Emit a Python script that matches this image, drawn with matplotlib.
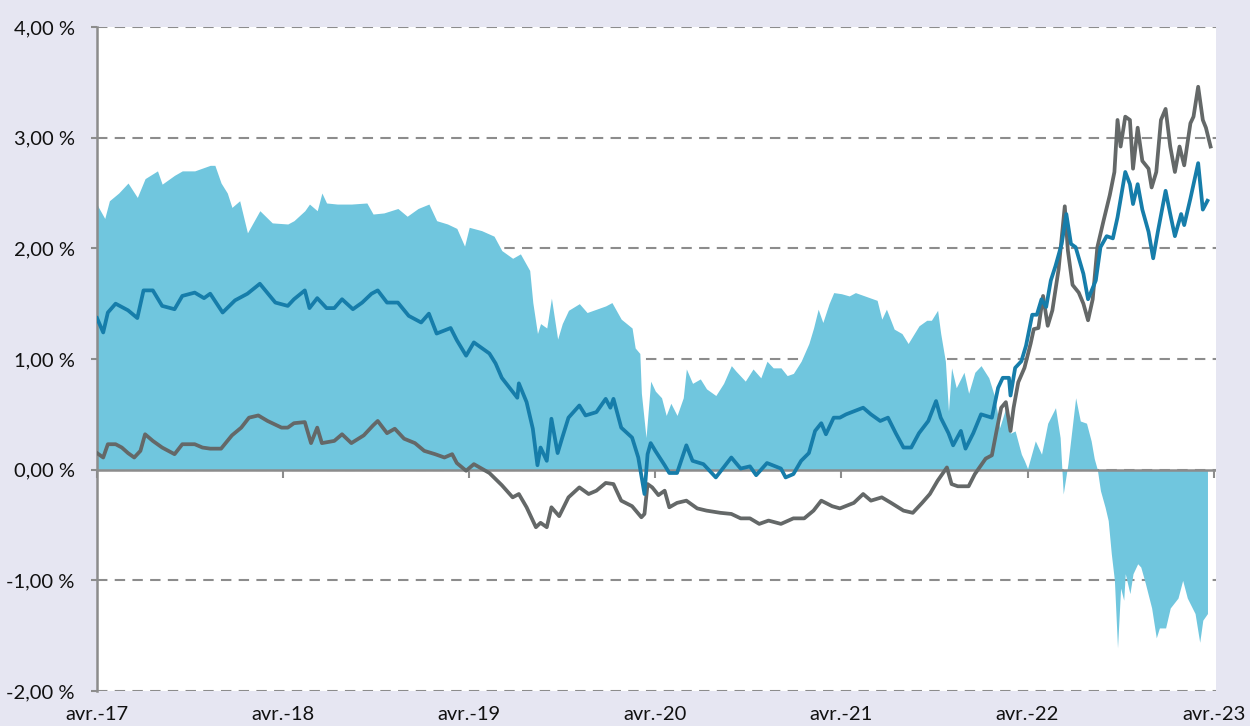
import matplotlib.pyplot as plt
import numpy as np

# axe x : mois depuis avril 2017
etiquettes_x = ["avr.-17", "avr.-18", "avr.-19", "avr.-20", "avr.-21", "avr.-22", "avr.-23"]
mois_ticks = [0, 12, 24, 36, 48, 60, 72]
niveaux_y = [-2, -1, 0, 1, 2, 3, 4]
etiquettes_y = ["-2,00 %", "-1,00 %", "0,00 %", "1,00 %", "2,00 %", "3,00 %", "4,00 %"]

# zone bleu clair (écart)
mois_zone = [0.0, 0.1, 0.5, 0.8, 1.4, 2.0, 2.6, 3.1, 3.9, 4.2, 5.0, 5.5, 6.3, 7.3, 7.6, 8.0, 8.4, 8.7,
             9.2, 9.7, 10.5, 11.3, 12.3, 12.7, 13.4, 13.7, 14.2, 14.5, 14.8, 15.5, 16.4, 17.4, 17.8,
             18.5, 19.4, 20.0, 20.7, 21.4, 21.9, 22.6, 23.2, 23.7, 24.0, 24.8, 25.6, 26.1, 26.8, 27.3,
             27.9, 28.1, 28.4, 28.6, 29.0, 29.3, 29.7, 30.0, 30.4, 31.1, 31.6, 32.2, 32.8, 33.2, 33.8,
             34.5, 34.7, 35.0, 35.1, 35.4, 35.7, 36.0, 36.4, 36.7, 37.0, 37.4, 37.8, 38.0, 38.4, 38.9,
             39.3, 39.9, 40.4, 40.9, 41.2, 41.8, 42.3, 42.8, 43.2, 43.6, 44.1, 44.5, 44.9, 45.4, 45.9,
             46.2, 46.5, 46.8, 47.2, 47.5, 48.0, 48.5, 48.9, 49.5, 50.3, 50.6, 50.9, 51.4, 51.9, 52.3,
             53.0, 53.5, 53.8, 54.2, 54.4, 54.7, 54.9, 55.1, 55.4, 55.9, 56.2, 56.6, 57.0, 57.5, 57.9,
             58.2, 58.6, 58.9, 59.2, 59.6, 59.8, 60.0, 60.5, 60.9, 61.3, 61.8, 62.1, 62.3, 62.6, 63.1,
             63.4, 63.8, 64.1, 64.3, 64.5, 64.7, 65.0, 65.2, 65.4, 65.6, 65.8, 66.0, 66.2, 66.3, 66.6,
             66.8, 67.1, 67.3, 67.6, 68.0, 68.3, 68.5, 68.9, 69.2, 69.7, 70.0, 70.3, 70.8, 71.1, 71.3,
             71.6]
zone = [2.40, 2.37, 2.27, 2.43, 2.50, 2.59, 2.46, 2.63, 2.70, 2.58, 2.66, 2.70, 2.70, 2.75, 2.75, 2.59,
        2.50, 2.37, 2.43, 2.14, 2.34, 2.23, 2.22, 2.25, 2.34, 2.40, 2.34, 2.50, 2.41, 2.40, 2.40, 2.41,
        2.31, 2.32, 2.36, 2.29, 2.36, 2.40, 2.25, 2.22, 2.18, 2.02, 2.19, 2.16, 2.11, 1.98, 1.91, 1.95,
        1.80, 1.51, 1.23, 1.32, 1.28, 1.55, 1.18, 1.32, 1.44, 1.50, 1.42, 1.45, 1.48, 1.51, 1.36,
        1.28, 1.10, 1.05, 0.69, 0.29, 0.80, 0.71, 0.65, 0.49, 0.60, 0.49, 0.65, 0.91, 0.78, 0.82,
        0.73, 0.67, 0.78, 0.94, 0.89, 0.80, 0.91, 0.83, 0.98, 0.92, 0.92, 0.85, 0.87, 0.98, 1.14,
        1.28, 1.45, 1.33, 1.50, 1.60, 1.59, 1.57, 1.60, 1.57, 1.53, 1.36, 1.45, 1.27, 1.23, 1.14,
        1.30, 1.35, 1.35, 1.44, 1.23, 0.98, 0.53, 0.92, 0.74, 0.88, 0.69, 0.88, 0.94, 0.83, 0.65,
        0.38, 0.56, 0.33, 0.35, 0.14, 0.08, 0.01, 0.26, 0.14, 0.42, 0.56, 0.29, -0.22, 0.05, 0.65,
        0.44, 0.42, 0.26, 0.10, 0.00, -0.19, -0.34, -0.46, -0.76, -1.00, -1.61, -1.07, -1.18, -0.94, -1.12,
        -0.94, -0.85, -0.88, -1.03, -1.25, -1.52, -1.43, -1.43, -1.25, -1.16, -1.00, -1.16, -1.30, -1.56, -1.36,
        -1.30]

# courbe bleue
mois_bleu = [0.0, 0.4, 0.7, 1.2, 2.0, 2.6, 3.0, 3.6, 4.2, 5.0, 5.5, 6.3, 6.9, 7.3, 8.1, 8.9, 9.7, 10.5,
             11.5, 12.3, 12.7, 13.4, 13.7, 14.2, 14.8, 15.3, 15.8, 16.5, 17.1, 17.7, 18.1, 18.7, 19.4,
             20.1, 20.9, 21.4, 21.9, 22.8, 23.2, 23.8, 24.3, 24.6, 25.3, 25.7, 26.1, 26.6, 27.1, 27.2,
             27.7, 28.1, 28.4, 28.6, 29.0, 29.3, 29.7, 30.0, 30.4, 31.1, 31.5, 32.2, 32.8, 33.1, 33.3,
             33.8, 34.5, 34.9, 35.3, 35.5, 35.7, 36.0, 36.6, 36.9, 37.4, 38.0, 38.4, 39.1, 39.9, 40.4,
             40.9, 41.5, 42.1, 42.5, 43.2, 44.1, 44.4, 44.9, 45.4, 45.9, 46.3, 46.7, 47.0, 47.5, 47.9,
             48.3, 49.4, 49.9, 50.5, 51.0, 51.5, 52.0, 52.5, 53.0, 53.6, 54.1, 54.4, 54.9, 55.2, 55.7,
             56.0, 56.5, 57.0, 57.7, 58.1, 58.4, 58.8, 58.9, 59.2, 59.6, 59.9, 60.3, 60.6, 60.9, 61.2,
             61.5, 61.8, 62.2, 62.5, 62.8, 63.1, 63.6, 63.9, 64.4, 64.7, 65.1, 65.5, 65.8, 66.3, 66.6,
             66.8, 67.1, 67.4, 67.8, 68.1, 68.4, 68.9, 69.2, 69.5, 69.9, 70.1, 70.5, 71.0, 71.3, 71.6]
bleu = [1.37, 1.24, 1.42, 1.50, 1.44, 1.37, 1.62, 1.62, 1.48, 1.45, 1.57, 1.60, 1.55, 1.59, 1.42, 1.53,
        1.59, 1.68, 1.51, 1.48, 1.54, 1.62, 1.46, 1.55, 1.46, 1.46, 1.54, 1.45, 1.51, 1.59, 1.62, 1.51,
        1.51, 1.39, 1.33, 1.41, 1.23, 1.28, 1.17, 1.03, 1.15, 1.12, 1.05, 0.96, 0.83, 0.74, 0.65, 0.78,
        0.61, 0.37, 0.04, 0.20, 0.08, 0.46, 0.15, 0.29, 0.47, 0.58, 0.49, 0.52, 0.64, 0.56, 0.64,
        0.38, 0.29, 0.11, -0.22, 0.14, 0.24, 0.17, 0.04, -0.03, -0.03, 0.22, 0.08, 0.05, -0.07, 0.02,
        0.11, 0.01, 0.03, -0.05, 0.06, 0.01, -0.07, -0.04, 0.08, 0.15, 0.35, 0.42, 0.32, 0.47, 0.47,
        0.50, 0.56, 0.50, 0.44, 0.47, 0.33, 0.20, 0.20, 0.33, 0.44, 0.62, 0.47, 0.33, 0.22, 0.35,
        0.19, 0.33, 0.50, 0.47, 0.74, 0.83, 0.83, 0.67, 0.92, 0.98, 1.12, 1.40, 1.40, 1.54, 1.47,
        1.71, 1.84, 2.04, 2.31, 2.04, 2.01, 1.77, 1.54, 1.71, 2.01, 2.11, 2.09, 2.28, 2.69, 2.58,
        2.40, 2.58, 2.35, 2.15, 1.91, 2.15, 2.52, 2.31, 2.11, 2.31, 2.21, 2.45, 2.77, 2.35, 2.43]

# courbe grise
mois_gris = [0.0, 0.4, 0.7, 1.2, 1.6, 2.0, 2.4, 2.8, 3.1, 3.6, 4.2, 5.0, 5.5, 6.3, 6.8, 7.3, 8.0, 8.7,
             9.3, 9.8, 10.4, 11.0, 11.9, 12.3, 12.7, 13.4, 13.8, 14.2, 14.5, 15.3, 15.8, 16.4, 17.2,
             17.8, 18.1, 18.7, 19.2, 19.8, 20.5, 21.1, 21.8, 22.4, 22.9, 23.2, 23.8, 24.3, 25.3, 26.1,
             26.8, 27.2, 27.7, 28.3, 28.6, 29.0, 29.3, 29.8, 30.4, 31.1, 31.7, 32.2, 32.8, 33.3, 33.8,
             34.5, 35.1, 35.3, 35.5, 35.8, 36.2, 36.6, 36.9, 37.4, 38.0, 38.7, 39.3, 40.2, 40.9, 41.5,
             42.1, 42.7, 43.3, 44.1, 44.9, 45.6, 46.2, 46.7, 47.4, 47.9, 48.8, 49.4, 49.9, 50.6, 51.2,
             52.0, 52.6, 53.2, 53.7, 54.2, 54.8, 55.1, 55.5, 56.2, 56.6, 57.3, 57.7, 58.0, 58.3, 58.6,
             58.9, 59.1, 59.4, 59.8, 60.2, 60.4, 60.7, 61.0, 61.3, 61.6, 62.0, 62.4, 62.6, 62.9, 63.3,
             63.6, 63.9, 64.2, 64.5, 64.9, 65.3, 65.6, 65.8, 66.0, 66.3, 66.6, 66.8, 67.1, 67.4, 67.8,
             68.0, 68.3, 68.6, 68.9, 69.2, 69.5, 69.8, 70.1, 70.5, 70.7, 71.0, 71.3, 71.5, 71.8]
gris = [0.15, 0.11, 0.23, 0.23, 0.20, 0.15, 0.11, 0.17, 0.32, 0.26, 0.20, 0.14, 0.23, 0.23, 0.20, 0.19,
        0.19, 0.31, 0.38, 0.47, 0.49, 0.44, 0.38, 0.38, 0.42, 0.43, 0.24, 0.38, 0.24, 0.26, 0.32, 0.24,
        0.31, 0.40, 0.44, 0.33, 0.37, 0.28, 0.24, 0.17, 0.14, 0.11, 0.14, 0.06, -0.01, 0.05, -0.03, -0.14,
        -0.25, -0.22, -0.34, -0.52, -0.48, -0.52, -0.34, -0.42, -0.25, -0.16, -0.22, -0.19, -0.12, -0.13, -0.28,
        -0.33, -0.43, -0.40, -0.13, -0.16, -0.23, -0.19, -0.34, -0.30, -0.28, -0.35, -0.37, -0.39, -0.40, -0.44,
        -0.44, -0.49, -0.46, -0.49, -0.44, -0.44, -0.37, -0.28, -0.33, -0.35, -0.30, -0.22, -0.28, -0.25, -0.30,
        -0.37, -0.39, -0.30, -0.22, -0.10, 0.02, -0.13, -0.15, -0.15, -0.04, 0.10, 0.13, 0.35, 0.56, 0.61,
        0.35, 0.56, 0.79, 0.92, 1.14, 1.27, 1.28, 1.57, 1.30, 1.44, 1.81, 2.38, 1.98, 1.67, 1.60,
        1.50, 1.35, 1.54, 2.01, 2.25, 2.48, 2.69, 3.16, 2.92, 3.19, 3.16, 2.72, 3.09, 2.79, 2.72,
        2.55, 2.69, 3.16, 3.26, 2.92, 2.69, 2.92, 2.75, 3.13, 3.19, 3.46, 3.16, 3.09, 2.92]

fond = "#E6E6F2"
gris_axe = "#8C8C8C"

fig = plt.figure(figsize=(12.5, 7.26), dpi=100, facecolor=fond)
ax = fig.add_axes([0.0776, 0.0482, 0.8952, 0.9146])
ax.set_facecolor("white")

ax.fill_between(mois_zone, zone, 0, color="#70C6DE", linewidth=0, zorder=1)
ax.axhline(0, color=gris_axe, linewidth=1.8, zorder=2)
ax.plot(mois_gris, gris, color="#646868", linewidth=2.7, zorder=3, solid_joinstyle="round")
ax.plot(mois_bleu, bleu, color="#167DAA", linewidth=2.7, zorder=4, solid_joinstyle="round")

ax.set_xlim(0, 72.15)
ax.set_ylim(-2, 4)
ax.set_yticks(niveaux_y)
ax.set_yticklabels(etiquettes_y)
ax.set_xticks(mois_ticks)
ax.set_xticklabels(etiquettes_x)

for s in ["top", "right", "bottom"]:
    ax.spines[s].set_visible(False)
ax.spines["left"].set_color(gris_axe)
ax.spines["left"].set_linewidth(1.8)

ax.yaxis.grid(True, linestyle=(0, (5, 3.5)), color=gris_axe, linewidth=1.5)
ax.set_axisbelow(True)
ax.tick_params(axis="y", length=4, width=1.5, color=gris_axe, labelsize=14.5, pad=12,
               labelcolor="#111111")
ax.tick_params(axis="x", length=0, labelsize=14.5, pad=11, labelcolor="#111111")
for lab in ax.get_xticklabels() + ax.get_yticklabels():
    lab.set_fontfamily("Lato")

# petites graduations sur la ligne du zéro
sec = ax.secondary_xaxis(1 / 3)
sec.set_xticks(mois_ticks)
sec.tick_params(axis="x", length=6, width=1.5, color=gris_axe, labelbottom=False)
for s in sec.spines.values():
    s.set_visible(False)

fig.savefig("out.png", dpi=100, facecolor=fond)
